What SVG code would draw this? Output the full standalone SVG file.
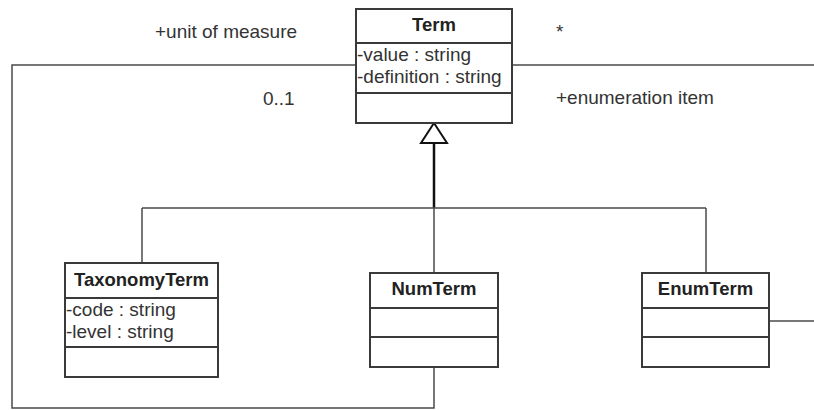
<svg xmlns="http://www.w3.org/2000/svg" width="814" height="410" viewBox="0 0 814 410">
  <style>
    .box { fill: #ffffff; stroke: #3a3a3a; stroke-width: 2; }
    .sep { stroke: #3a3a3a; stroke-width: 2; }
    .wire { fill: none; stroke: #4a4a4a; stroke-width: 1.5; }
    .gen { fill: none; stroke: #111111; stroke-width: 2.5; }
    .name { font-family: "Liberation Sans", Arial, sans-serif; font-size: 18.5px; font-weight: bold; fill: #222222; text-anchor: middle; }
    .attr { font-family: "Liberation Sans", Arial, sans-serif; font-size: 19px; fill: #333333; }
    .label { font-family: "Liberation Sans", Arial, sans-serif; font-size: 19px; fill: #333333; }
  </style>
  <rect width="814" height="410" fill="#ffffff"/>

  <!-- connectors -->
  <g id="connectors">
    <!-- unit of measure association: Term to NumTerm -->
    <polyline class="wire" points="356,65 12,65 12,408 434,408 434,367"/>
    <!-- enumeration item association -->
    <polyline class="wire" points="512,65 814,65"/>
    <polyline class="wire" points="769,321 814,321"/>
    <!-- generalization tree -->
    <polyline class="gen" points="434,143 434,208"/>
    <polyline class="wire" points="142,208 706,208"/>
    <polyline class="wire" points="142,208 142,263"/>
    <polyline class="wire" points="434,208 434,273"/>
    <polyline class="wire" points="706,208 706,273"/>
    <polygon points="434,123 421,143 447,143" fill="#ffffff" stroke="#111111" stroke-width="2"/>
    <text class="label" x="155" y="38">+unit of measure</text>
    <text class="label" x="263" y="105">0..1</text>
    <text class="label" x="556" y="38">*</text>
    <text class="label" x="556" y="104">+enumeration item</text>
  </g>

  <g id="term">
    <rect class="box" x="356" y="9" width="156" height="114"/>
    <line class="sep" x1="356" y1="43" x2="512" y2="43"/>
    <line class="sep" x1="356" y1="93" x2="512" y2="93"/>
    <text class="name" x="434" y="31">Term</text>
    <text class="attr" x="357" y="61">-value : string</text>
    <text class="attr" x="357" y="83">-definition : string</text>
  </g>

  <g id="taxonomy-term">
    <rect class="box" x="65" y="263" width="153" height="114"/>
    <line class="sep" x1="65" y1="298" x2="218" y2="298"/>
    <line class="sep" x1="65" y1="347" x2="218" y2="347"/>
    <text class="name" x="141.5" y="286">TaxonomyTerm</text>
    <text class="attr" x="66" y="316">-code : string</text>
    <text class="attr" x="66" y="338">-level : string</text>
  </g>

  <g id="num-term">
    <rect class="box" x="370" y="273" width="128" height="94"/>
    <line class="sep" x1="370" y1="308" x2="498" y2="308"/>
    <line class="sep" x1="370" y1="337" x2="498" y2="337"/>
    <text class="name" x="434" y="295">NumTerm</text>
  </g>

  <g id="enum-term">
    <rect class="box" x="642" y="273" width="127" height="94"/>
    <line class="sep" x1="642" y1="308" x2="769" y2="308"/>
    <line class="sep" x1="642" y1="337" x2="769" y2="337"/>
    <text class="name" x="705.5" y="295">EnumTerm</text>
  </g>
</svg>
